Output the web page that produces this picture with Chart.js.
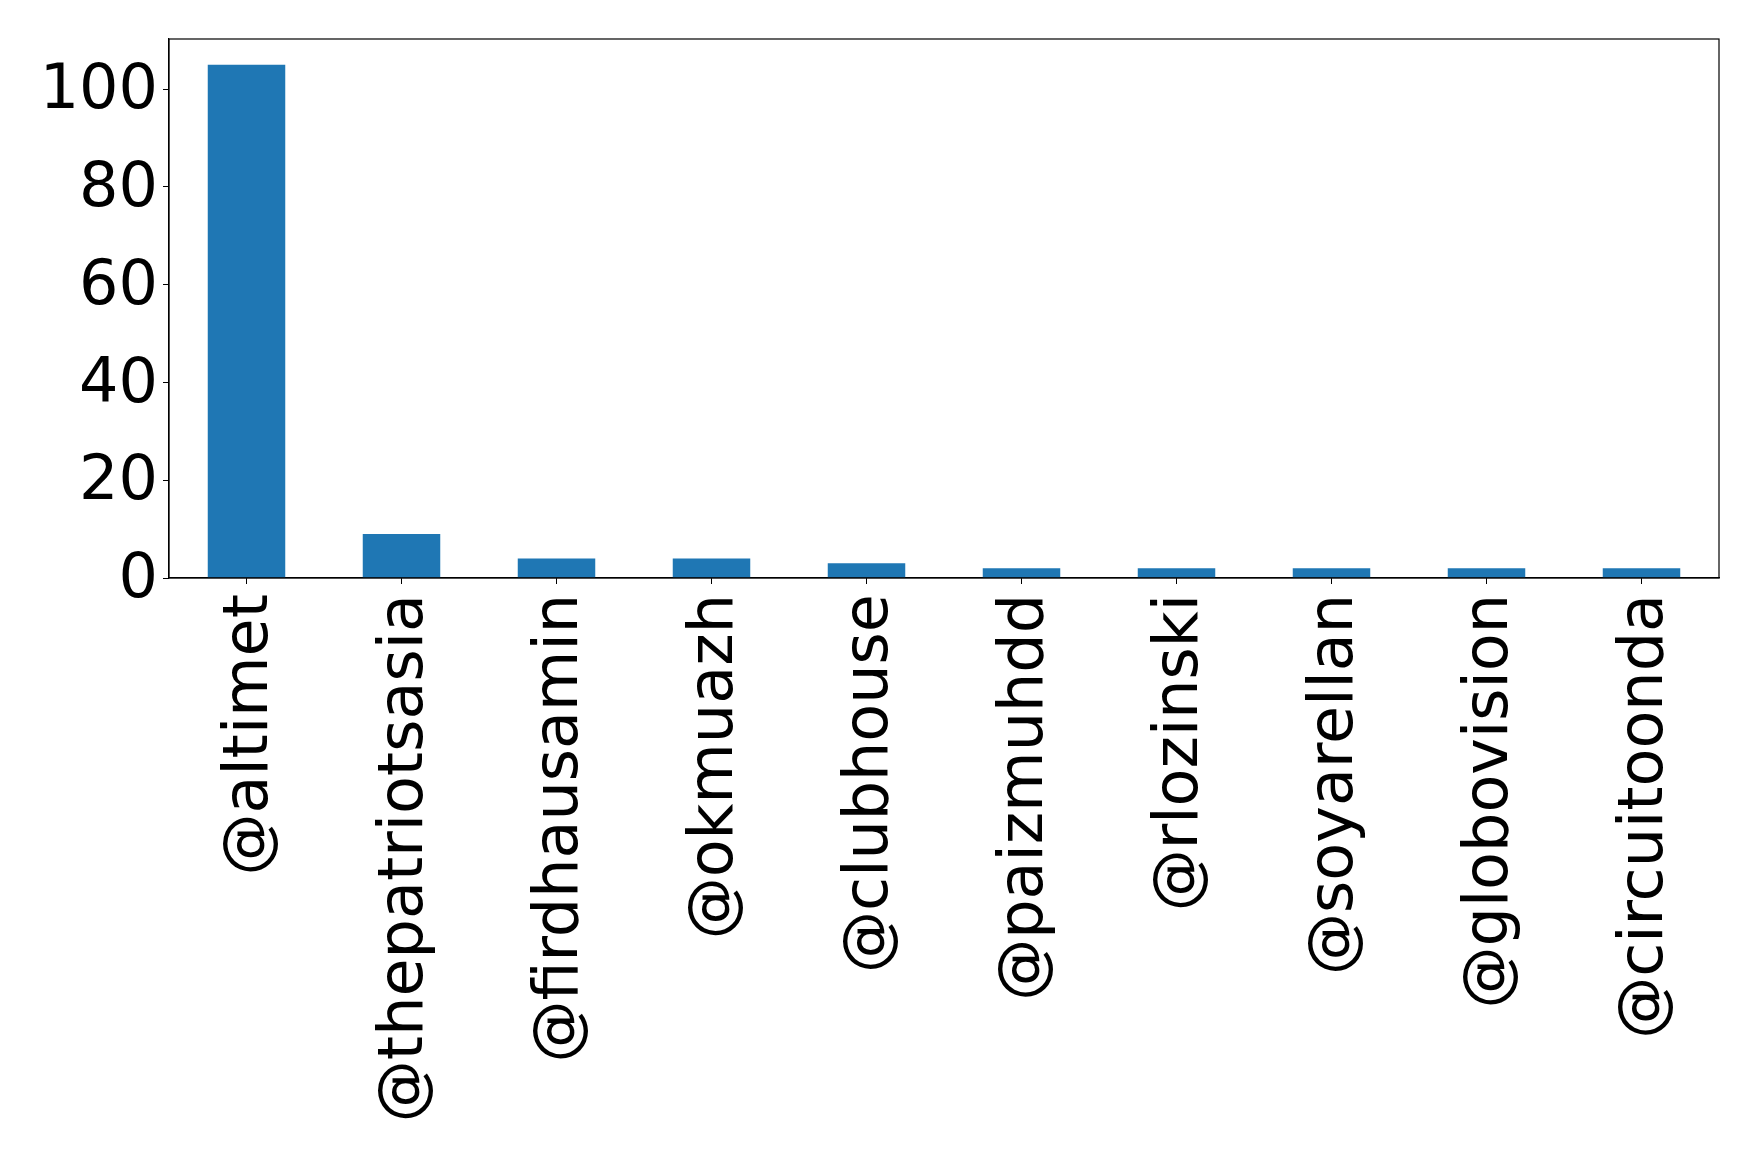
<!DOCTYPE html>
<html>
<head>
<meta charset="utf-8">
<script src="https://cdn.jsdelivr.net/npm/chart.js@4"></script>
<style>
  html, body { margin: 0; padding: 0; background: #ffffff; }
  #wrap { width: 1758px; height: 1160px; }
</style>
</head>
<body>
<div id="wrap"><canvas id="grafico" width="1758" height="1160"></canvas></div>
<script>
// datos
const usuarios = ['@altimet', '@thepatriotsasia', '@firdhausamin', '@okmuazh', '@clubhouse',
                  '@paizmuhdd', '@rlozinski', '@soyarellan', '@globovision', '@circuitoonda'];
const menciones = [105, 9, 4, 4, 3, 2, 2, 2, 2, 2];
const ticksY = [0, 20, 40, 60, 80, 100];
const maxY = 110.25;

// marco negro alrededor del area del grafico
const marco = {
    id: 'marco',
    afterDraw(chart) {
        const a = chart.chartArea;
        const ctx = chart.ctx;
        ctx.save();
        ctx.strokeStyle = '#000000';
        ctx.lineWidth = 1.2;
        ctx.strokeRect(a.left, a.top, a.right - a.left, a.bottom - a.top);
        ctx.restore();
    }
};

const fuente = { family: 'DejaVu Sans', size: 62 };

new Chart(document.getElementById('grafico'), {
    type: 'bar',
    data: {
        labels: usuarios,
        datasets: [{
            data: menciones,
            backgroundColor: '#1f77b4',
            borderWidth: 0,
            barPercentage: 0.5,
            categoryPercentage: 1.0
        }]
    },
    options: {
        responsive: false,
        animation: false,
        devicePixelRatio: 1,
        layout: { padding: { left: 0, top: 39, right: 39, bottom: 0 } },
        plugins: { legend: { display: false }, tooltip: { enabled: false } },
        scales: {
            x: {
                offset: true,
                grid: { display: true, drawOnChartArea: false, drawTicks: true, tickLength: 6, color: '#000000', offset: false },
                border: { display: true, color: '#000000', width: 1.2 },
                ticks: {
                    color: '#000000',
                    font: fuente,
                    minRotation: 90,
                    maxRotation: 90,
                    autoSkip: false,
                    padding: 10,
                    labelOffset: 4
                },
                afterFit(scale) {
                    scale.height = 582;
                    scale.paddingLeft = 0;
                    scale.paddingRight = 0;
                }
            },
            y: {
                min: 0,
                max: maxY,
                grid: { display: true, drawOnChartArea: false, drawTicks: true, tickLength: 6, color: '#000000' },
                border: { display: true, color: '#000000', width: 1.2 },
                ticks: { color: '#000000', font: fuente, padding: 5, labelOffset: 3 },
                afterBuildTicks(scale) {
                    scale.ticks = ticksY.map(v => ({ value: v }));
                },
                afterFit(scale) {
                    scale.width = 169;
                    scale.paddingTop = 0;
                    scale.paddingBottom = 0;
                }
            }
        }
    },
    plugins: [marco]
});
</script>
</body>
</html>
